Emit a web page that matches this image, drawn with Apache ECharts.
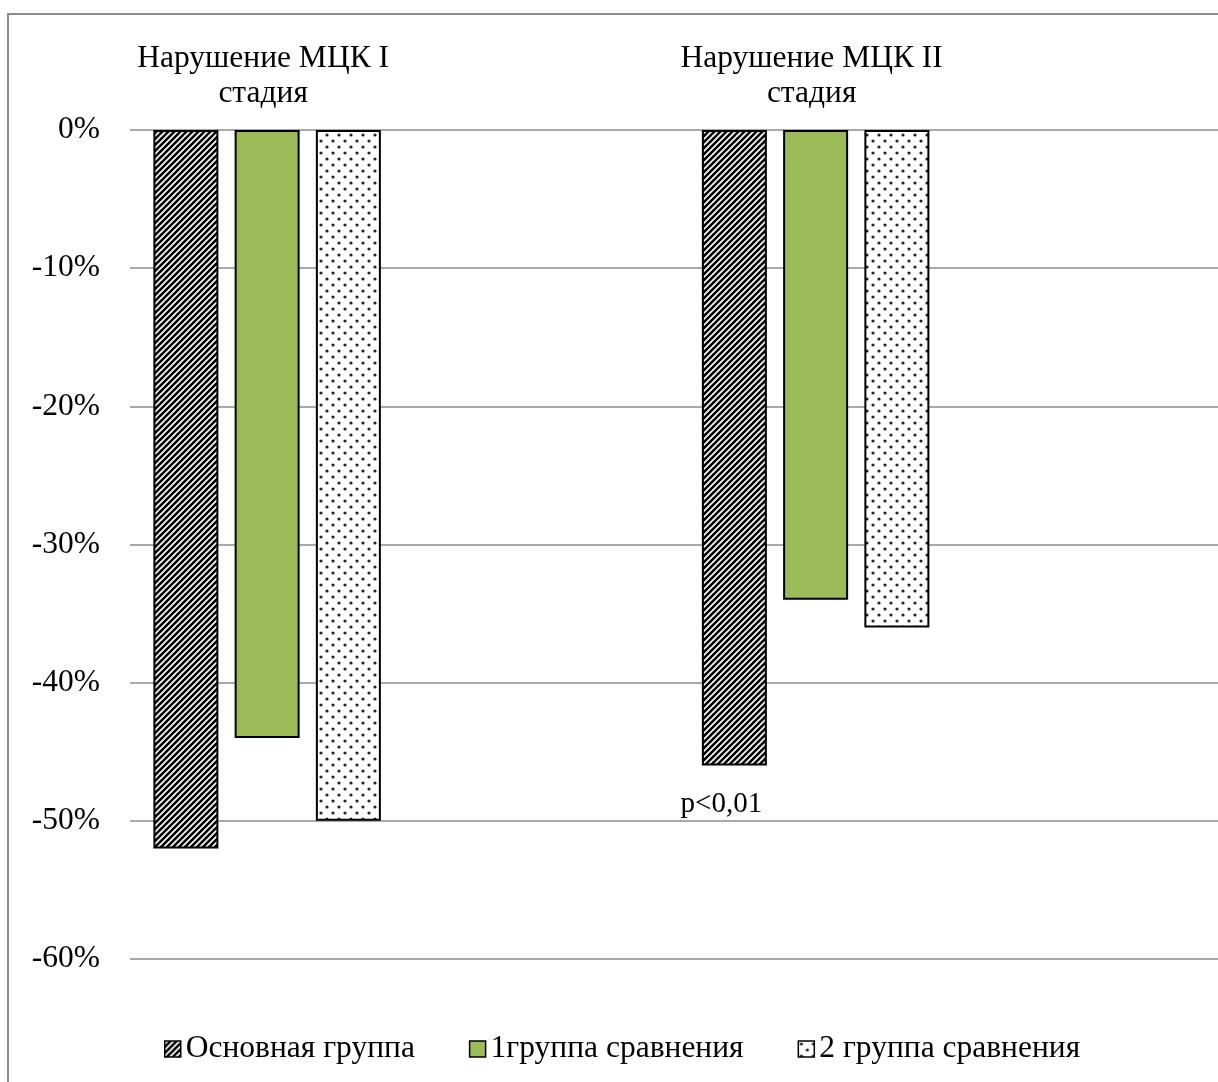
<!DOCTYPE html>
<html>
<head>
<meta charset="utf-8">
<title>Нарушение МЦК</title>
<script src="https://cdn.jsdelivr.net/npm/echarts@6/dist/echarts.min.js"></script>
<style>
  html, body { margin: 0; padding: 0; background: #fff; }
  #chart { width: 1218px; height: 1082px; }
</style>
</head>
<body>
<div id="chart"></div>
<script>
// Stages of microcirculation disorder (МЦК) shown along the top axis
const categories = ['Нарушение МЦК I\nстадия', 'Нарушение МЦК II\nстадия'];
const seriesNames = ['Основная группа', '1группа сравнения', '2 группа сравнения'];
// Change, % per group
const mainGroup = [-52, -46];
const compareGroup1 = [-44, -34];
const compareGroup2 = [-50, -36];
// Significance notes under the main group bars
const mainGroupNotes = ['', 'p<0,01'];
// Value axis range, %
const yMin = -60, yMax = 0, yStep = 10;

const FONT = '"Liberation Serif", "Times New Roman", serif';
const FS = 31.5;

// Each stage is followed by an empty slot, so the groups sit left in their halves
const axisSlots = categories.flatMap(c => [c, '']);
const toSlots = arr => arr.flatMap(v => [v, '-']);

function hatchPattern() {
  const s = 6;
  const c = document.createElement('canvas');
  c.width = s; c.height = s;
  const g = c.getContext('2d');
  g.fillStyle = '#fff';
  g.fillRect(0, 0, s, s);
  g.strokeStyle = '#000';
  g.lineWidth = 2.6;
  g.beginPath();
  g.moveTo(-1, s + 1); g.lineTo(s + 1, -1);
  g.moveTo(-1, 1); g.lineTo(1, -1);
  g.moveTo(s - 1, s + 1); g.lineTo(s + 1, s - 1);
  g.stroke();
  return c;
}

function dotPattern() {
  const w = 12, h = 12;
  const c = document.createElement('canvas');
  c.width = w; c.height = h;
  const g = c.getContext('2d');
  g.fillStyle = '#fff';
  g.fillRect(0, 0, w, h);
  g.fillStyle = '#222';
  [[3, 3], [9, 9]].forEach(([x, y]) => {
    g.beginPath(); g.arc(x, y, 1.6, 0, Math.PI * 2); g.fill();
  });
  return c;
}

const hatchFill = { image: hatchPattern(), repeat: 'repeat' };
const dotFill = { image: dotPattern(), repeat: 'repeat' };

const barBase = {
  type: 'bar',
  barWidth: 65,
  barGap: '25%',
  itemStyle: { borderColor: '#000', borderWidth: 2 }
};

const mainData = toSlots(mainGroup).map((v, i) => {
  const note = i % 2 === 0 ? mainGroupNotes[i / 2] : '';
  if (!note) return v;
  return {
    value: v,
    label: {
      show: true, position: 'bottom', distance: 24, offset: [-13, 0],
      formatter: note, color: '#000', fontSize: 29, fontFamily: FONT
    }
  };
});

const chart = echarts.init(document.getElementById('chart'), null, { renderer: 'canvas' });
chart.setOption({
  backgroundColor: '#fff',
  animation: false,
  graphic: [{
    type: 'rect', z: -10, silent: true,
    shape: { x: 8, y: 14, width: 1400, height: 1200 },
    style: { fill: null, stroke: '#8c8c8c', lineWidth: 2 }
  }],
  grid: {
    left: 130, width: 1097, top: 130, bottom: 123,
    containLabel: false, outerBoundsMode: 'none'
  },
  legend: {
    bottom: 12, left: 159,
    itemWidth: 16, itemHeight: 16, itemGap: 54, icon: 'rect',
    itemStyle: { borderColor: '#000', borderWidth: 1.5 },
    textStyle: { color: '#000', fontSize: FS, fontFamily: FONT },
    data: seriesNames
  },
  xAxis: {
    type: 'category', position: 'top', data: axisSlots,
    axisLine: { show: false }, axisTick: { show: false },
    axisLabel: {
      interval: 0, color: '#000', fontSize: FS, lineHeight: 35,
      fontFamily: FONT, margin: 19, padding: [0, 8, 0, 0]
    }
  },
  yAxis: {
    type: 'value', min: yMin, max: yMax, interval: yStep,
    axisLine: { show: false }, axisTick: { show: false },
    splitLine: { lineStyle: { color: '#8c8c8c', width: 1.5 } },
    axisLabel: {
      formatter: '{value}%', color: '#000', fontSize: FS,
      fontFamily: FONT, margin: 30
    }
  },
  series: [
    Object.assign({}, barBase, {
      name: seriesNames[0], data: mainData,
      itemStyle: Object.assign({}, barBase.itemStyle, { color: hatchFill })
    }),
    Object.assign({}, barBase, {
      name: seriesNames[1], data: toSlots(compareGroup1),
      itemStyle: Object.assign({}, barBase.itemStyle, { color: '#9bbb59' })
    }),
    Object.assign({}, barBase, {
      name: seriesNames[2], data: toSlots(compareGroup2),
      itemStyle: Object.assign({}, barBase.itemStyle, { color: dotFill })
    })
  ]
});
</script>
</body>
</html>
